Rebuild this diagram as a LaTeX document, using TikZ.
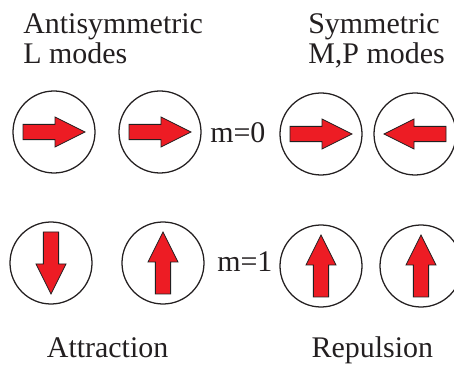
\documentclass[tikz,border=0pt]{standalone}
\usepackage{fontspec}
\setmainfont{Liberation Serif}
\usetikzlibrary{positioning}
\definecolor{ArrowRed}{HTML}{ED1C24}
\definecolor{Rim}{HTML}{231F20}

\tikzset{
  mode/.style={circle, draw=Rim, line width=0.9pt, minimum size=2.05cm, inner sep=0pt},
  spin/.style={fill=ArrowRed, draw=Rim, line width=0.6pt, line join=miter},
  lbl/.style={font=\fontsize{21.3}{22}\selectfont, inner sep=0pt, text=Rim},
}
% block arrow inside a mode circle: #1 circle name, #2 direction angle
\newcommand{\spinarrow}[2]{%
  \draw[spin, shift={(#1.center)}, rotate=#2]
    (-0.775,-0.19) -- (0.025,-0.19) -- (0.025,-0.375) -- (0.775,0)
    -- (0.025,0.375) -- (0.025,0.19) -- (-0.775,0.19) -- cycle;}

\begin{document}
\begin{tikzpicture}
  \useasboundingbox (0,0) rectangle (11.35,9.3);
  \clip (0,0) rectangle (11.35,9.3);

  % m=0 row
  \node[mode] (a0l) at (1.35,6.0) {};
  \node[mode] (a0r) at (4.0,6.0) {};
  \node[mode] (s0l) at (8.025,5.95) {};
  \node[mode] (s0r) at (10.375,5.95) {};
  \spinarrow{a0l}{0}
  \spinarrow{a0r}{0}
  \spinarrow{s0l}{0}
  \spinarrow{s0r}{180}

  % m=1 row
  \node[mode] (a1l) at (1.275,2.725) {};
  \node[mode] (a1r) at (4.075,2.725) {};
  \node[mode] (s1l) at (8.025,2.65) {};
  \node[mode] (s1r) at (10.525,2.65) {};
  \spinarrow{a1l}{-90}
  \spinarrow{a1r}{90}
  \spinarrow{s1l}{90}
  \spinarrow{s1r}{90}

  % labels (base = last line)
  \node[lbl, anchor=base west, align=left] (anti) at (0.575,7.7) {Antisymmetric\\L modes};
  \node[lbl, anchor=base west, align=left] (sym) at (7.7,7.7) {Symmetric\\M,P modes};
  \node[lbl, anchor=base west] (m0) at (5.25,5.725) {m=0};
  \node[lbl, anchor=base west] (m1) at (5.425,2.5) {m=1};
  \node[lbl, anchor=base] (attr) at (2.69,0.35) {Attraction};
  \node[lbl, anchor=base] (rep) at (9.31,0.35) {Repulsion};
\end{tikzpicture}
\end{document}
